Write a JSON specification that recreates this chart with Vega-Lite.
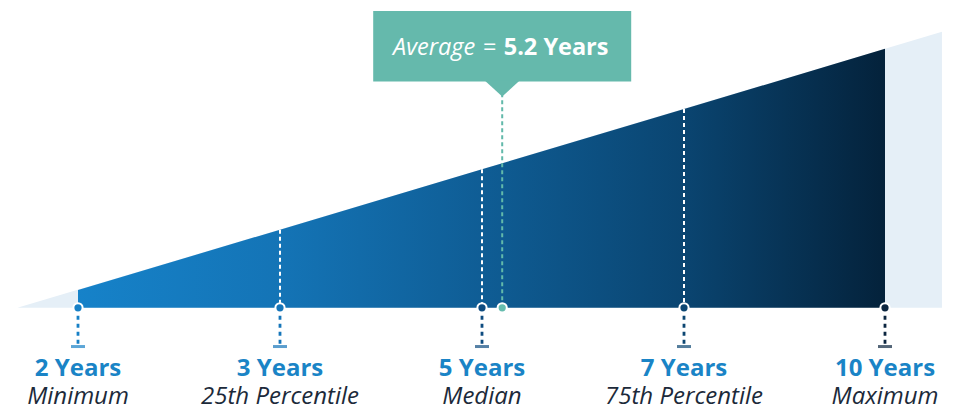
{
  "$schema": "https://vega.github.io/schema/vega-lite/v6.json",
  "width": 955,
  "height": 409,
  "autosize": {"type": "fit", "contains": "padding"},
  "padding": 0,
  "background": "white",
  "config": {"view": {"stroke": null}, "font": "Open Sans"},
  "datasets": {
    "stats": [
      {"years": 2, "pct": 0, "label": "2 Years", "stat": "Minimum"},
      {"years": 3, "pct": 25, "label": "3 Years", "stat": "25th Percentile"},
      {"years": 5, "pct": 50, "label": "5 Years", "stat": "Median"},
      {"years": 7, "pct": 75, "label": "7 Years", "stat": "75th Percentile"},
      {"years": 10, "pct": 100, "label": "10 Years", "stat": "Maximum"}
    ],
    "avg": [{"years": 5.2, "label": "5.2 Years"}],
    "bg": [
      {"years": 1.7, "pct": -7.4},
      {"years": 10.85, "pct": 107.06}
    ]
  },
  "encoding": {
    "x": {"field": "years", "type": "quantitative", "axis": null,
      "scale": {"domain": [2, 3, 5, 7, 10], "range": [78, 280, 482, 684, 885], "nice": false, "zero": false, "clamp": false}}
  },
  "layer": [
    {
      "data": {"name": "bg"},
      "mark": {"type": "area", "color": "#e5eff7"},
      "encoding": {
        "y": {"field": "pct", "type": "quantitative", "axis": null, "scale": {"domain": [-48.1, 120.2], "nice": false, "zero": false}},
        "y2": {"datum": -7.4}
      }
    },
    {
      "data": {"name": "stats"},
      "mark": {"type": "area", "color": {"gradient": "linear", "x1": 0, "y1": 0, "x2": 1, "y2": 0,
        "stops": [
          {"offset": 0, "color": "#1682c9"},
          {"offset": 0.25, "color": "#1474b6"},
          {"offset": 0.5, "color": "#0f5d95"},
          {"offset": 0.75, "color": "#0a4571"},
          {"offset": 1, "color": "#04223b"}
        ]}},
      "encoding": {
        "y": {"field": "pct", "type": "quantitative", "axis": null, "scale": {"domain": [-48.1, 120.2], "nice": false, "zero": false}},
        "y2": {"datum": -7.4}
      }
    },
    {
      "data": {"name": "stats"},
      "transform": [{"filter": "datum.pct > 0 && datum.pct < 100"}],
      "mark": {"type": "rule", "color": "white", "strokeWidth": 2, "strokeDash": [4, 3]},
      "encoding": {
        "y": {"field": "pct", "type": "quantitative", "axis": null, "scale": {"domain": [-48.1, 120.2], "nice": false, "zero": false}},
        "y2": {"datum": -7.4}
      }
    },
    {
      "data": {"name": "avg"},
      "mark": {"type": "rule", "color": "#62b9aa", "strokeWidth": 2, "strokeDash": [4, 3]},
      "encoding": {
        "y": {"datum": 87.3, "axis": null, "scale": {"domain": [-48.1, 120.2], "nice": false, "zero": false}},
        "y2": {"datum": -7.4}
      }
    },
    {
      "data": {"name": "stats"},
      "mark": {"type": "rule", "strokeWidth": 2.8, "strokeDash": [4, 4]},
      "encoding": {
        "y": {"datum": -7.4, "axis": null, "scale": {"domain": [-48.1, 120.2], "nice": false, "zero": false}},
        "y2": {"datum": -23.45},
        "color": {"field": "years", "type": "nominal", "legend": null,
          "scale": {"domain": [2, 3, 5, 7, 10], "range": ["#1780c6", "#1675b9", "#0e4c80", "#0c4672", "#0b253f"]}}
      }
    },
    {
      "data": {"name": "stats"},
      "mark": {"type": "tick", "orient": "horizontal", "size": 14, "thickness": 3},
      "encoding": {
        "y": {"datum": -23.45, "axis": null, "scale": {"domain": [-48.1, 120.2], "nice": false, "zero": false}},
        "color": {"field": "years", "type": "nominal", "legend": null,
          "scale": {"domain": [2, 3, 5, 7, 10], "range": ["#1780c6", "#1675b9", "#0e4c80", "#0c4672", "#0b253f"]}}
      }
    },
    {
      "data": {"name": "stats"},
      "mark": {"type": "point", "filled": true, "size": 85, "stroke": "white", "strokeWidth": 2, "strokeOpacity": 1, "opacity": 1},
      "encoding": {
        "y": {"datum": -7.4, "axis": null, "scale": {"domain": [-48.1, 120.2], "nice": false, "zero": false}},
        "fill": {"field": "years", "type": "nominal", "legend": null,
          "scale": {"domain": [2, 3, 5, 7, 10], "range": ["#1780c6", "#1675b9", "#0e4c80", "#0c4672", "#0b253f"]}}
      }
    },
    {
      "data": {"name": "avg"},
      "mark": {"type": "point", "filled": true, "size": 85, "fill": "#66bcae", "stroke": "white", "strokeWidth": 2, "opacity": 1},
      "encoding": {
        "y": {"datum": -7.4, "axis": null, "scale": {"domain": [-48.1, 120.2], "nice": false, "zero": false}}
      }
    },
    {
      "data": {"name": "stats"},
      "mark": {"type": "text", "font": "Open Sans", "fontSize": 24, "fontWeight": "bold", "color": "#1a84c6", "align": "center", "baseline": "alphabetic", "dy": 68.5},
      "encoding": {
        "y": {"datum": -7.4, "axis": null, "scale": {"domain": [-48.1, 120.2], "nice": false, "zero": false}},
        "text": {"field": "label"}
      }
    },
    {
      "data": {"name": "stats"},
      "mark": {"type": "text", "font": "Open Sans", "fontSize": 24, "fontStyle": "italic", "color": "#1c2a3a", "align": "center", "baseline": "alphabetic", "dy": 96.5},
      "encoding": {
        "y": {"datum": -7.4, "axis": null, "scale": {"domain": [-48.1, 120.2], "nice": false, "zero": false}},
        "text": {"field": "stat"}
      }
    },
    {
      "data": {"name": "avg"},
      "mark": {"type": "rect", "color": "#65b9ac", "xOffset": -129, "x2Offset": 129},
      "encoding": {
        "x2": {"field": "years"},
        "y": {"datum": 115.6, "axis": null, "scale": {"domain": [-48.1, 120.2], "nice": false, "zero": false}},
        "y2": {"datum": 86.4}
      }
    },
    {
      "data": {"name": "avg"},
      "mark": {"type": "point", "shape": "M-1,-0.06L1,-0.06L0,0.86Z", "size": 1225, "filled": true, "color": "#65b9ac", "opacity": 1, "strokeWidth": 0},
      "encoding": {
        "y": {"datum": 86.4, "axis": null, "scale": {"domain": [-48.1, 120.2], "nice": false, "zero": false}}
      }
    },
    {
      "data": {"name": "avg"},
      "mark": {"type": "text", "font": "Open Sans", "fontSize": 23.5, "fontStyle": "italic", "color": "white", "align": "right", "baseline": "alphabetic", "dx": -27},
      "encoding": {
        "y": {"datum": 97.5, "axis": null, "scale": {"domain": [-48.1, 120.2], "nice": false, "zero": false}},
        "text": {"value": "Average"}
      }
    },
    {
      "data": {"name": "avg"},
      "mark": {"type": "text", "font": "Open Sans", "fontSize": 23.5, "color": "white", "align": "center", "baseline": "alphabetic", "dx": -12.5},
      "encoding": {
        "y": {"datum": 97.5, "axis": null, "scale": {"domain": [-48.1, 120.2], "nice": false, "zero": false}},
        "text": {"value": "="}
      }
    },
    {
      "data": {"name": "avg"},
      "mark": {"type": "text", "font": "Open Sans", "fontSize": 23.5, "fontWeight": "bold", "color": "white", "align": "left", "baseline": "alphabetic", "dx": 1.5},
      "encoding": {
        "y": {"datum": 97.5, "axis": null, "scale": {"domain": [-48.1, 120.2], "nice": false, "zero": false}},
        "text": {"field": "label"}
      }
    }
  ]
}
